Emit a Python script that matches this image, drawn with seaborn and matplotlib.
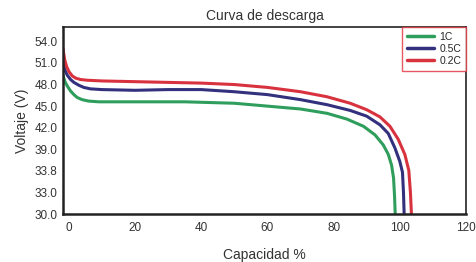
import matplotlib
matplotlib.use("Agg")
import matplotlib.pyplot as plt
import pandas as pd
import seaborn as sns

# ___ Data ___

x_1c = [-1.8, -1.2, -0.5, 0.5, 1.5, 2.5, 4, 6, 9, 20, 35, 50, 60, 70, 78, 84, 89, 92.5, 95, 96.5, 97.5, 98.1, 98.4, 98.6]
v_1c = [49.3, 48.4, 47.8, 47.1, 46.6, 46.2, 45.9, 45.7, 45.6, 45.6, 45.6, 45.4, 45.0, 44.6, 44.0, 43.2, 42.2, 41.0, 39.6, 38.3, 36.8, 35.0, 32.5, 30.0]

x_05c = [-1.8, -1.2, -0.5, 0.5, 1.5, 3, 4.5, 6.5, 10, 20, 30, 40, 50, 60, 70, 78, 85, 90, 94, 96.5, 98.5, 100, 100.8, 101.1, 101.3]
v_05c = [51.0, 50.0, 49.3, 48.7, 48.3, 47.9, 47.6, 47.4, 47.3, 47.2, 47.3, 47.3, 47.0, 46.6, 45.9, 45.2, 44.4, 43.6, 42.4, 41.2, 39.2, 37.3, 35.8, 33.0, 30.0]

x_02c = [-1.8, -1.3, -0.7, 0, 1, 2, 3.5, 5.5, 10, 20, 30, 40, 50, 60, 70, 78, 85, 90, 94, 97, 99.5, 101.5, 102.7, 103.2, 103.5]
v_02c = [53.0, 51.5, 50.5, 49.8, 49.2, 48.9, 48.7, 48.6, 48.5, 48.4, 48.3, 48.2, 48.0, 47.6, 47.0, 46.3, 45.4, 44.5, 43.5, 42.2, 40.4, 38.3, 36.1, 33.0, 30.0]

series = ["1C", "0.5C", "0.2C"]
colors = ["#2f9e5c", "#33307e", "#d8323f"]

y_ticks = [30, 33, 36, 39, 42, 45, 48, 51, 54]
y_tick_labels = ["30.0", "33.0", "33.8", "39.0", "42.0", "45.0", "48.0", "51.0", "54.0"]
x_ticks = [0, 20, 40, 60, 80, 100, 120]

df = pd.concat([
    pd.DataFrame({"cap": x_1c, "v": v_1c, "rate": "1C"}),
    pd.DataFrame({"cap": x_05c, "v": v_05c, "rate": "0.5C"}),
    pd.DataFrame({"cap": x_02c, "v": v_02c, "rate": "0.2C"}),
], ignore_index=True)

# ___ Plot ___

sns.set_theme(style="white")
plt.rcParams["font.family"] = ["Liberation Sans", "DejaVu Sans"]

fig = plt.figure(figsize=(4.77, 2.62), dpi=100)
ax = fig.add_axes([0.132, 0.183, 0.845, 0.714])

sns.lineplot(data=df, x="cap", y="v", hue="rate", hue_order=series,
             palette=colors, sort=False, estimator=None, linewidth=2.2, ax=ax)

ax.set_xlim(-1.8, 119.5)
ax.set_ylim(30, 56)
ax.set_xticks(x_ticks)
ax.set_yticks(y_ticks)
ax.set_yticklabels(y_tick_labels)
ax.tick_params(axis="both", length=0, labelsize=8.5, labelcolor="#333333")
ax.tick_params(axis="x", pad=6)
ax.tick_params(axis="y", pad=4)

for side in ["left", "bottom"]:
    ax.spines[side].set_linewidth(1.8)
    ax.spines[side].set_color("#222222")
for side in ["top", "right"]:
    ax.spines[side].set_linewidth(1.2)
    ax.spines[side].set_color("#222222")

ax.set_title("Curva de descarga", fontsize=10, color="#333333", pad=5)
ax.set_xlabel("Capacidad %", fontsize=10, color="#333333", labelpad=10)
ax.set_ylabel("Voltaje (V)", fontsize=10, color="#333333", labelpad=4)

leg = ax.legend(loc="upper right", fontsize=7.5, frameon=True, fancybox=False,
                borderaxespad=0, handlelength=2.6, handletextpad=0.5,
                labelspacing=0.2, borderpad=0.45)
leg.get_frame().set_edgecolor("#e0303c")
leg.get_frame().set_linewidth(1.0)
for line in leg.get_lines():
    line.set_linewidth(2.5)

fig.savefig("out.png", dpi=100)
